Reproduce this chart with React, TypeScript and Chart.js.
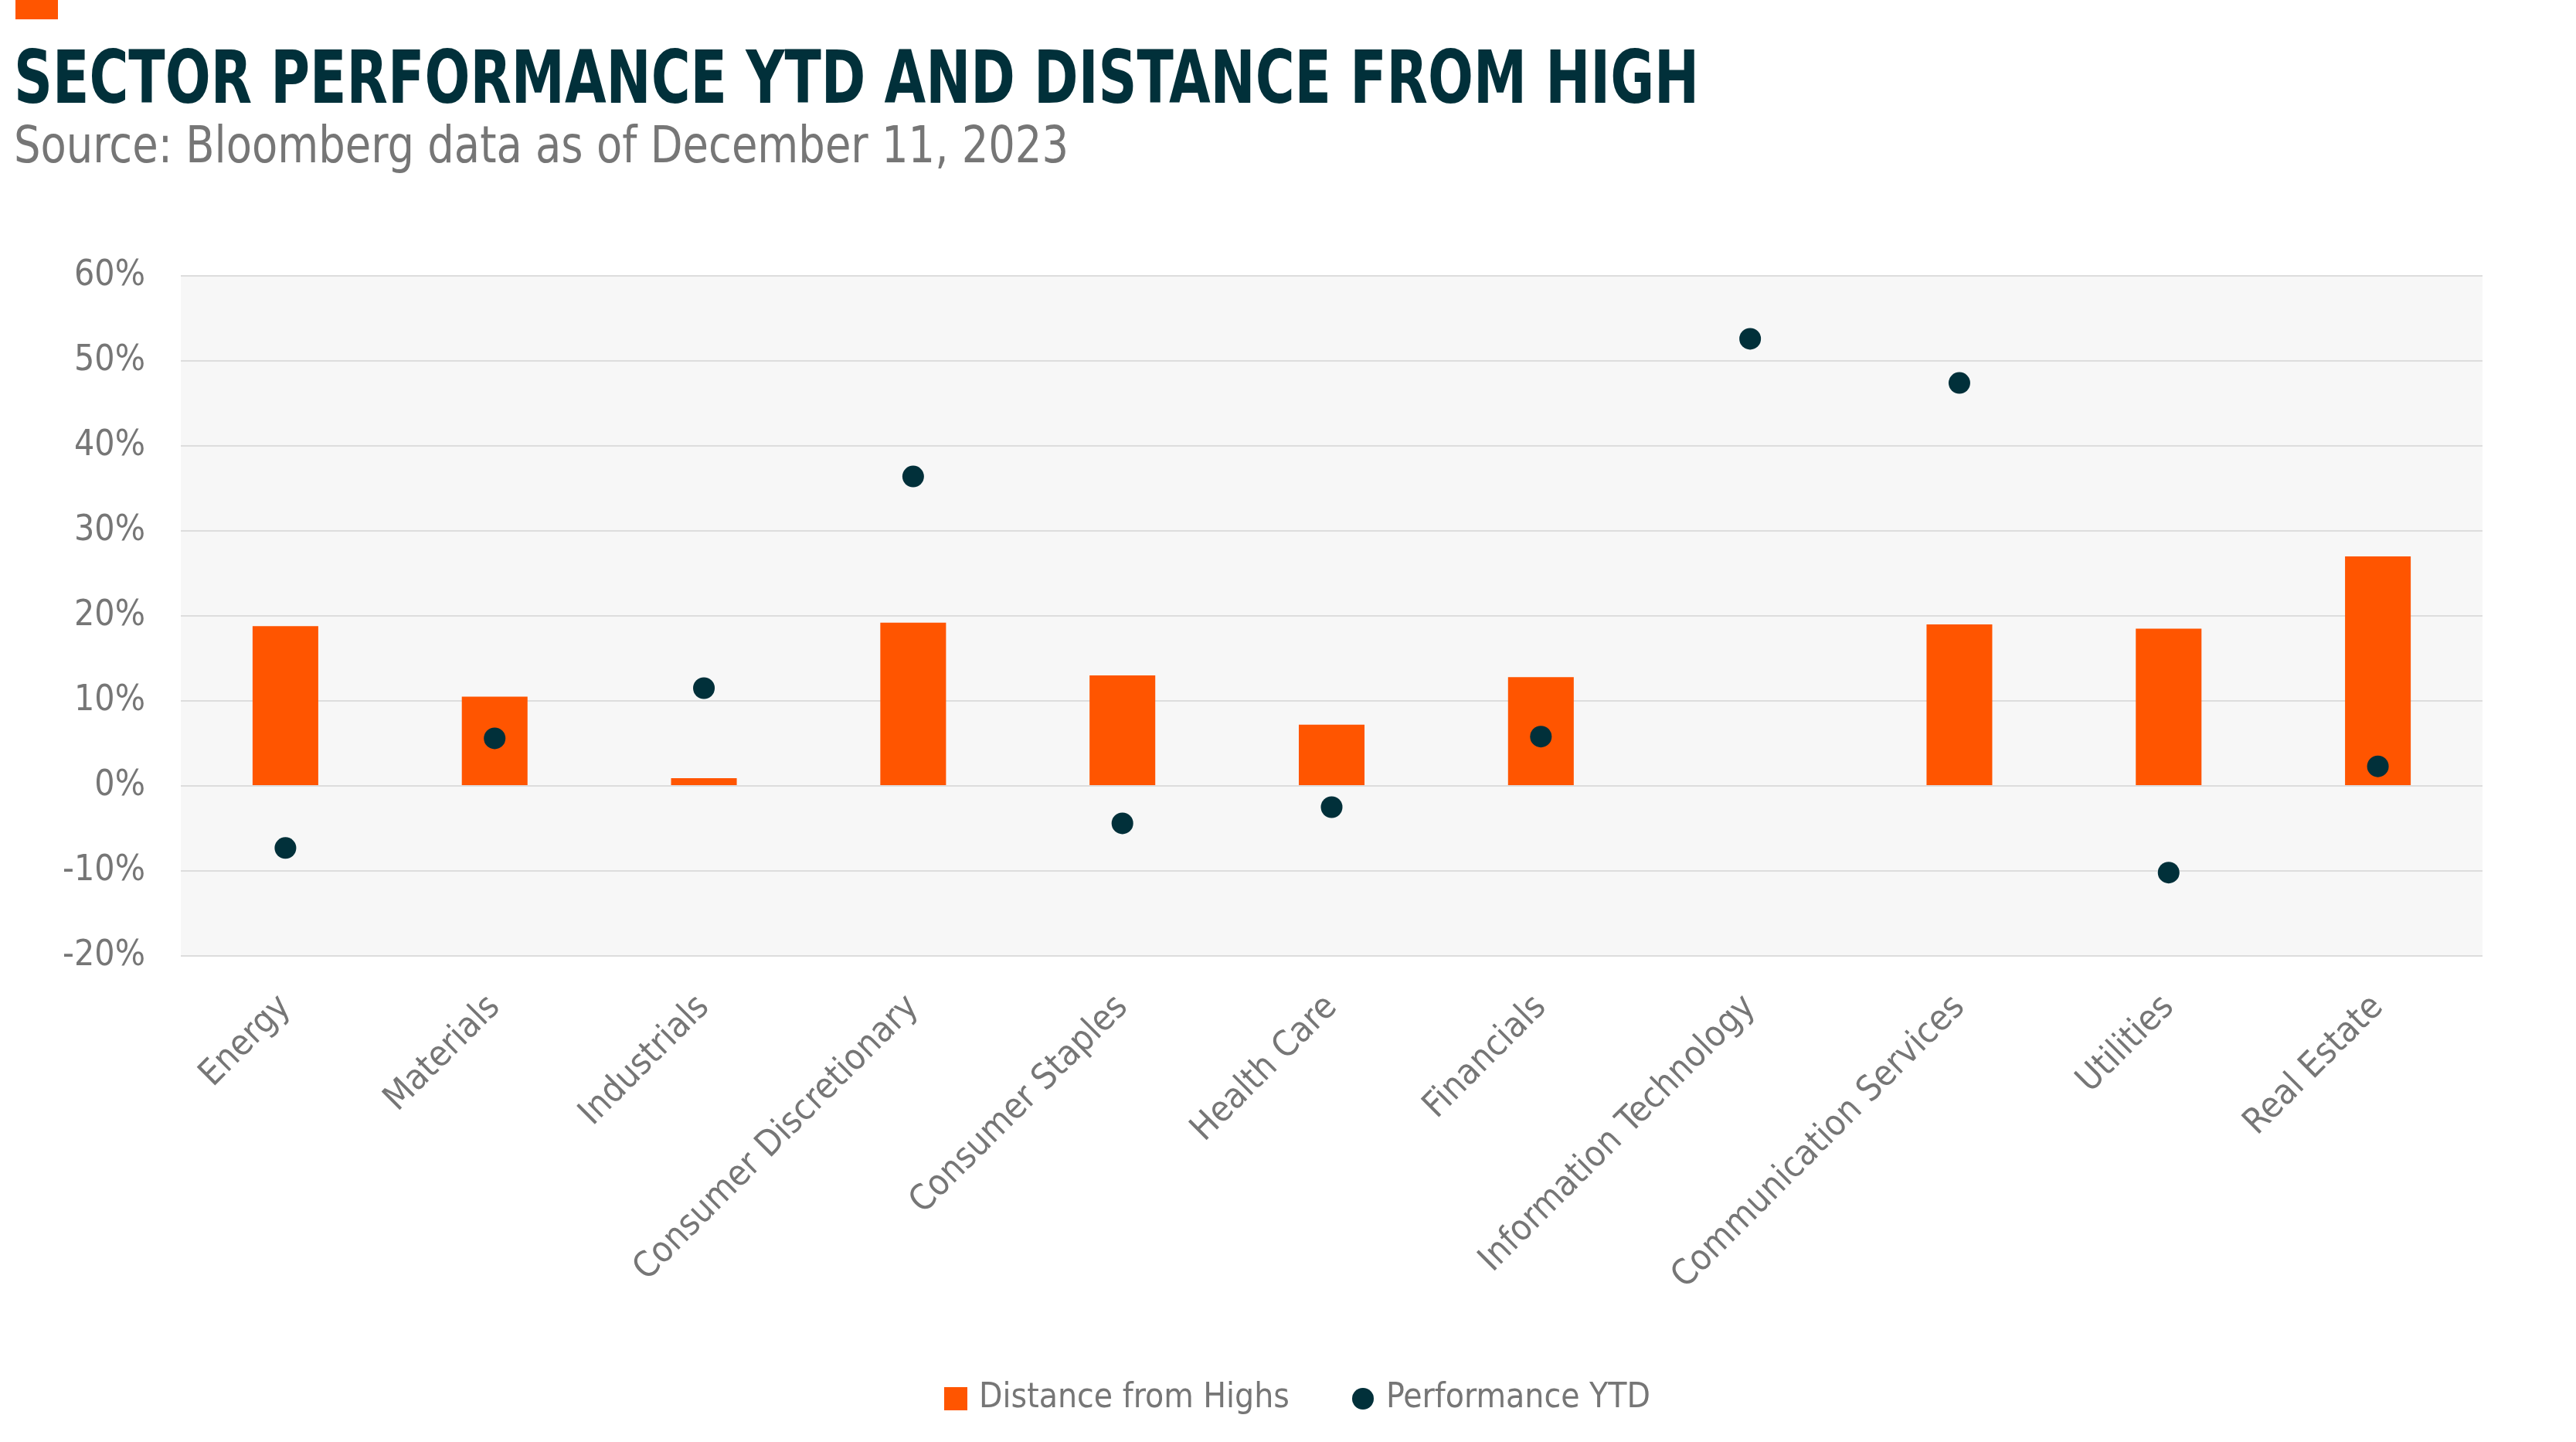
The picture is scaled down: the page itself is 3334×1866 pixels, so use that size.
import React, { useEffect, useRef } from "react";
import { Chart, registerables } from "chart.js";

Chart.register(...registerables);

const categories = [
  "Energy",
  "Materials",
  "Industrials",
  "Consumer Discretionary",
  "Consumer Staples",
  "Health Care",
  "Financials",
  "Information Technology",
  "Communication Services",
  "Utilities",
  "Real Estate",
];
const distanceFromHighs = [18.8, 10.5, 0.9, 19.2, 13.0, 7.2, 12.8, 0, 19.0, 18.5, 27.0];
const performanceYTD = [-7.3, 5.6, 11.5, 36.4, -4.4, -2.5, 5.8, 52.6, 47.4, -10.2, 2.3];
const yTicks = [-20, -10, 0, 10, 20, 30, 40, 50, 60];

const ORANGE = "#ff5500";
const DARK = "#01303a";
const GRAY = "#767676";
const FONT = "'Liberation Sans Narrow', 'DejaVu Sans Condensed', 'Arial Narrow', sans-serif";

function makeSquare(size: number, color: string) {
  const c = document.createElement("canvas");
  c.width = size;
  c.height = size;
  const ctx = c.getContext("2d")!;
  ctx.fillStyle = color;
  ctx.fillRect(0, 0, size, size);
  return c;
}
function makeCircle(size: number, color: string) {
  const c = document.createElement("canvas");
  c.width = size;
  c.height = size;
  const ctx = c.getContext("2d")!;
  ctx.fillStyle = color;
  ctx.beginPath();
  ctx.arc(size / 2, size / 2, size / 2, 0, Math.PI * 2);
  ctx.fill();
  return c;
}

const plotBg = {
  id: "plotBg",
  beforeDraw(chart: any) {
    const { ctx, chartArea } = chart;
    ctx.save();
    ctx.fillStyle = "#f7f7f7";
    ctx.fillRect(chartArea.left, chartArea.top, chartArea.right - chartArea.left, chartArea.bottom - chartArea.top);
    ctx.restore();
  },
};

// centre the legend under the reference position (legend box shifted right)
const legendShift = {
  id: "legendShift",
  afterLayout(chart: any) {
    const lg = chart.legend;
    if (lg) {
      lg.left += 76;
      lg.right += 76;
    }
  },
};

export default function App() {
  const ref = useRef<HTMLCanvasElement>(null);
  useEffect(() => {
    const sq = makeSquare(30, ORANGE);
    const ci = makeCircle(28, DARK);
    const chart = new Chart(ref.current!, {
      type: "bar",
      data: {
        labels: categories,
        datasets: [
          {
            type: "bar",
            label: "Distance from Highs",
            data: distanceFromHighs,
            backgroundColor: ORANGE,
            barPercentage: 0.314,
            categoryPercentage: 1,
            order: 1,
          },
          {
            type: "line",
            label: "Performance YTD",
            data: performanceYTD,
            showLine: false,
            pointRadius: 14,
            pointHoverRadius: 14,
            pointBackgroundColor: DARK,
            pointBorderWidth: 0,
            borderColor: DARK,
            backgroundColor: DARK,
            order: 0,
          } as any,
        ],
      },
      options: {
        animation: false,
        responsive: false,
        devicePixelRatio: 1,
        layout: { padding: { top: 357, left: 0, right: 121, bottom: 24 } },
        plugins: {
          tooltip: { enabled: false },
          legend: {
            position: "bottom",
            labels: {
              usePointStyle: true,
              boxWidth: 16,
              boxHeight: 30,
              padding: 87,
              color: GRAY,
              font: { family: FONT, size: 44 },
              generateLabels: (ch: any) =>
                ch.data.datasets.map((ds: any, i: number) => ({
                  text: ds.label,
                  pointStyle: i === 0 ? sq : ci,
                  fillStyle: i === 0 ? ORANGE : DARK,
                  strokeStyle: "transparent",
                  lineWidth: 0,
                  fontColor: GRAY,
                  hidden: false,
                  datasetIndex: i,
                })),
            },
          },
        },
        scales: {
          x: {
            grid: { display: false },
            border: { display: false },
            ticks: {
              color: GRAY,
              font: { family: FONT, size: 46 },
              minRotation: 45,
              maxRotation: 45,
              padding: 32,
            },
            afterFit: (s: any) => {
              s.height = 464;
            },
          },
          y: {
            min: -20,
            max: 60,
            afterBuildTicks: (s: any) => {
              s.ticks = yTicks.map((v) => ({ value: v }));
            },
            grid: { color: "#dddddd", lineWidth: 2, drawTicks: false },
            border: { display: false },
            ticks: {
              color: GRAY,
              font: { family: FONT, size: 46 },
              padding: 46,
              callback: (v: any) => `${v}%`,
            },
            afterFit: (s: any) => {
              s.width = 234;
            },
          },
        },
      },
      plugins: [plotBg, legendShift],
    });
    return () => chart.destroy();
  }, []);

  return (
    <div style={{ position: "absolute", top: 0, left: 0, width: 3334, height: 1866, background: "#fff", overflow: "hidden" }}>
      <div style={{ position: "absolute", left: 20, top: 0, width: 55, height: 25, background: ORANGE }} />
      <div
        style={{
          position: "absolute",
          left: 18,
          top: 48,
          fontFamily: FONT,
          fontWeight: 700,
          fontSize: 95,
          lineHeight: "105px",
          color: DARK,
          whiteSpace: "nowrap",
          transform: "scaleX(0.812)",
          transformOrigin: "left top",
        }}
      >
        SECTOR PERFORMANCE YTD AND DISTANCE FROM HIGH
      </div>
      <div
        style={{
          position: "absolute",
          left: 18,
          top: 150,
          fontFamily: FONT,
          fontSize: 65,
          lineHeight: "75px",
          color: GRAY,
          whiteSpace: "nowrap",
          transform: "scaleX(0.93)",
          transformOrigin: "left top",
        }}
      >
        Source: Bloomberg data as of December 11, 2023
      </div>
      <canvas ref={ref} width={3334} height={1866} style={{ position: "absolute", left: 0, top: 0 }} />
    </div>
  );
}
